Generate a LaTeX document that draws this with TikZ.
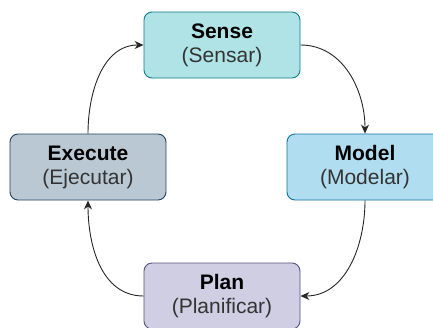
\documentclass[tikz,border=0pt]{standalone}
\usepackage{fontspec}
\setmainfont{Liberation Sans}
\usepackage{xcolor}
\usetikzlibrary{positioning, arrows.meta}

\definecolor{senseFill}{HTML}{B0E3E6}
\definecolor{senseLine}{HTML}{0E8088}
\definecolor{modelFill}{HTML}{B1DDF0}
\definecolor{modelLine}{HTML}{10739E}
\definecolor{planFill}{HTML}{D0CEE2}
\definecolor{planLine}{HTML}{56517E}
\definecolor{execFill}{HTML}{BAC8D3}
\definecolor{execLine}{HTML}{23445D}
\definecolor{subText}{HTML}{333333}

\begin{document}
\begin{tikzpicture}[
    x=1pt, y=-1pt,
    stagenode/.style={rectangle, rounded corners=8pt, line width=0.9pt, minimum width=156pt, minimum height=66pt, align=center, inner sep=0pt, font=\fontsize{21}{24}\selectfont},
    loopedge/.style={-{Stealth[length=9pt, width=8pt]}, line width=0.9pt, draw=black!85},
    ]
    \useasboundingbox (0,0) rectangle (433,327);
    %Nodes
    \node[stagenode, draw=senseLine, fill=senseFill] (sense) at (222,45) {\textbf{Sense}\\\textcolor{subText}{(Sensar)}};
    \node[stagenode, draw=modelLine, fill=modelFill] (model) at (365,167) {\textbf{Model}\\\textcolor{subText}{(Modelar)}};
    \node[stagenode, draw=planLine, fill=planFill] (plan) at (222,296) {\textbf{Plan}\\\textcolor{subText}{(Planificar)}};
    \node[stagenode, draw=execLine, fill=execFill] (execute) at (88,167) {\textbf{Execute}\\\textcolor{subText}{(Ejecutar)}};
    
    \draw[loopedge] (sense.east) to[out=0, in=90] (model.north);
    \draw[loopedge] (model.south) to[out=-90, in=0] (plan.east);
    \draw[loopedge] (plan.west) to[out=180, in=-90] (execute.south);
    \draw[loopedge] (execute.north) to[out=90, in=180] (sense.west);
\end{tikzpicture}
\end{document}
